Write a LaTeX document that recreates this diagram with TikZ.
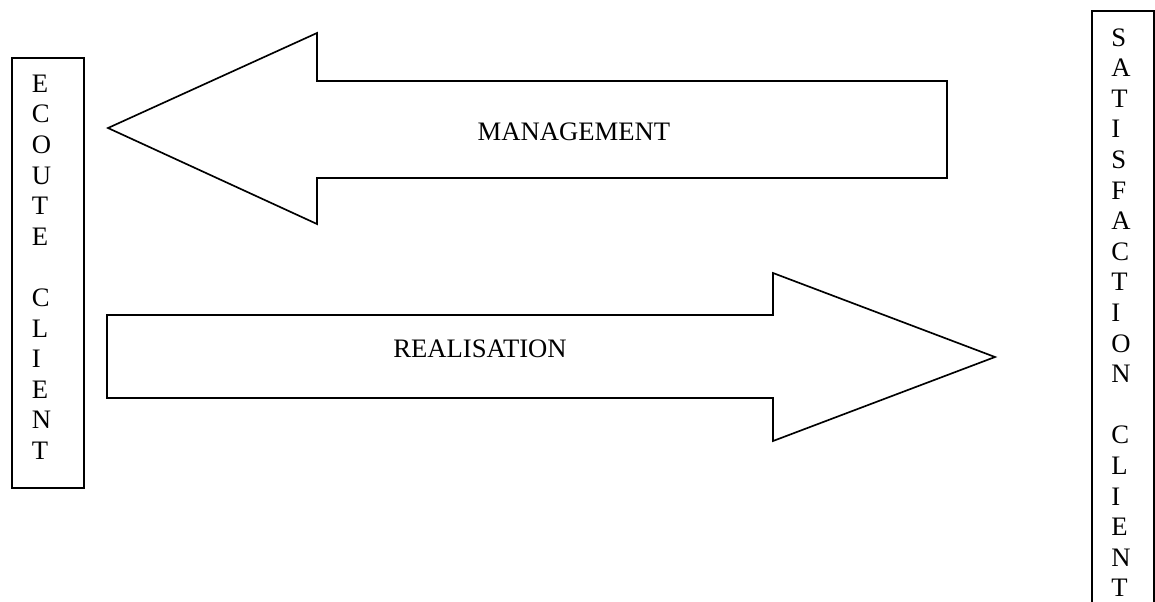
\documentclass[tikz,border=0pt]{standalone}
\usepackage{fontspec}
\setmainfont{Liberation Serif}
\begin{document}
\begin{tikzpicture}[x=0.45pt,y=-0.45pt,
  panel/.style={draw=black,line width=0.75pt,inner sep=0pt,anchor=north west},
  bigarrow/.style={draw=black,line width=0.75pt,line join=miter},
  caption/.style={font=\fontsize{12}{13.77}\selectfont,inner sep=0pt},
  column/.style={font=\fontsize{12}{13.77}\selectfont,inner sep=0pt,align=left,anchor=north west}]
\useasboundingbox (0,0) rectangle (1155,601);
\clip (0,0) rectangle (1155,601);

% side panels
\node[panel,minimum width=32.4pt,minimum height=193.5pt] (ecoute) at (11,57) {};
\node[panel,minimum width=27.9pt,minimum height=270pt] (satisfaction) at (1091,10) {};

% vertical lettering inside the panels
\node[column] (ecoutetext) at (31.5,74.4)
  {E\\C\\O\\U\\T\\E\\\mbox{}\\C\\L\\I\\E\\N\\T};
\node[column] (satisfactiontext) at (1111,28)
  {S\\A\\T\\I\\S\\F\\A\\C\\T\\I\\O\\N\\\mbox{}\\C\\L\\I\\E\\N\\T};

% block arrows
\draw[bigarrow] (947,81) -- (317,81) -- (317,33) -- (108,128) -- (317,224)
  -- (317,178) -- (947,178) -- cycle;
\draw[bigarrow] (107,315) -- (773,315) -- (773,273) -- (995,357) -- (773,441)
  -- (773,398) -- (107,398) -- cycle;

\node[caption] (management) at (574,132) {MANAGEMENT};
\node[caption] (realisation) at (480,349) {REALISATION};
\end{tikzpicture}
\end{document}
